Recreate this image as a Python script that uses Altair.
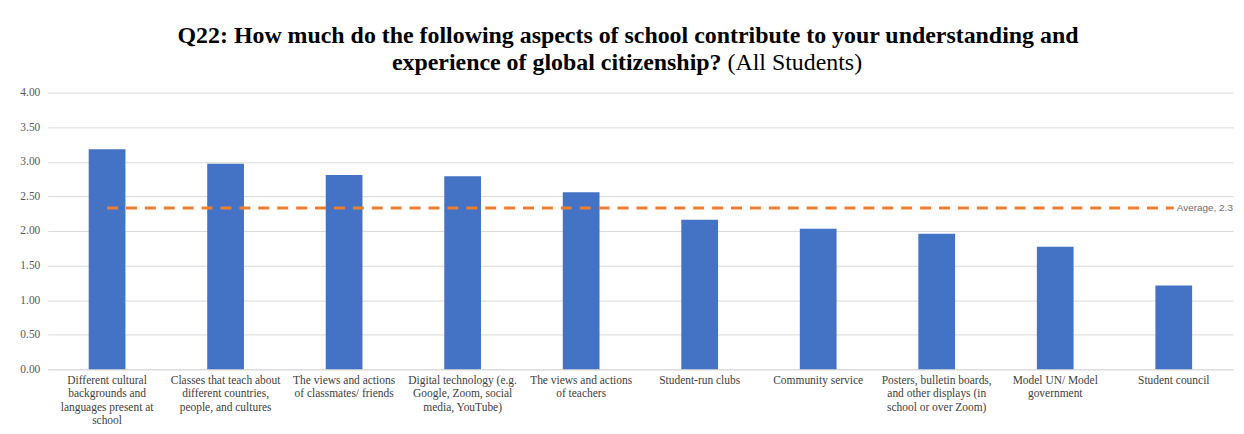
import altair as alt
import pandas as pd

categories = [
    "Different cultural|backgrounds and|languages present at|school",
    "Classes that teach about|different countries,|people, and cultures",
    "The views and actions|of classmates/ friends",
    "Digital technology (e.g.|Google, Zoom, social|media, YouTube)",
    "The views and actions|of teachers",
    "Student-run clubs",
    "Community service",
    "Posters, bulletin boards,|and other displays (in|school or over Zoom)",
    "Model UN/ Model|government",
    "Student council",
]
values = [3.18, 2.97, 2.81, 2.79, 2.56, 2.16, 2.03, 1.96, 1.77, 1.21]
average_value = 2.33
average_label = "Average, 2.3"
y_ticks = [0, 0.5, 1.0, 1.5, 2.0, 2.5, 3.0, 3.5, 4.0]

title_line1 = "Q22: How much do the following aspects of school contribute to your understanding and"
title_line2_bold = "experience of global citizenship?"
title_line2_normal = "(All Students)"

SERIF = "Liberation Serif"

bars_df = pd.DataFrame({"category": categories, "value": values})
avg_df = pd.DataFrame({
    "start": [categories[0]], "end": [categories[-1]],
    "avg": [average_value], "label": [average_label],
})

x_scale = alt.Scale(domain=categories, paddingInner=0.69, paddingOuter=0.345)
y_scale = alt.Scale(domain=[0, 4])

x_axis = alt.Axis(
    title=None, labelAngle=0, ticks=False, domainColor="#D9D9D9",
    labelExpr="split(datum.label, '|')", labelFont=SERIF,
    labelFontSize=11.5, labelLineHeight=13.5, labelColor="#404040",
    labelPadding=5, labelLimit=0, labelBaseline="top",
)
y_axis = alt.Axis(
    title=None, values=y_ticks, format=".2f", domain=False, ticks=False,
    gridColor="#D9D9D9", labelFont=SERIF, labelFontSize=11.5,
    labelColor="#595959", labelPadding=8, labelOverlap=False,
)

bars = alt.Chart(bars_df).mark_bar(color="#4472C4").encode(
    x=alt.X("category:N", scale=x_scale, axis=x_axis),
    y=alt.Y("value:Q", scale=y_scale, axis=y_axis),
)

avg_rule = alt.Chart(avg_df).mark_rule(
    color="#ED7D31", strokeWidth=3, strokeDash=[11, 8]
).encode(
    x=alt.X("start:N", scale=x_scale, axis=x_axis),
    x2="end:N",
    y=alt.Y("avg:Q", scale=y_scale, axis=y_axis),
)

avg_text = alt.Chart(avg_df).mark_text(
    align="left", baseline="middle", dx=3, font="Liberation Sans",
    fontSize=10, color="#6E6E6E"
).encode(
    x=alt.X("end:N", scale=x_scale, axis=x_axis),
    y=alt.Y("avg:Q", scale=y_scale, axis=y_axis),
    text="label:N",
)

t1 = alt.Chart(pd.DataFrame({"t": [title_line1]})).mark_text(
    font=SERIF, fontSize=24, fontWeight="bold", align="center",
    baseline="middle", color="#000000"
).encode(text="t:N", x=alt.value(583), y=alt.value(-57))

t2a = alt.Chart(pd.DataFrame({"t": [title_line2_bold]})).mark_text(
    font=SERIF, fontSize=24, fontWeight="bold", align="right",
    baseline="middle", color="#000000"
).encode(text="t:N", x=alt.value(677), y=alt.value(-30))

t2b = alt.Chart(pd.DataFrame({"t": [title_line2_normal]})).mark_text(
    font=SERIF, fontSize=24, fontWeight="normal", align="left",
    baseline="middle", color="#000000"
).encode(text="t:N", x=alt.value(683), y=alt.value(-30))

chart = alt.layer(bars, avg_rule, avg_text, t1, t2a, t2b).properties(
    width=1191, height=278,
    autosize=alt.AutoSizeParams(type="none"),
    padding={"left": 40, "top": 84, "right": 3, "bottom": 56},
    background="white",
).configure_view(stroke=None)

chart.save("out.html", embed_options={"renderer": "svg", "actions": False})
